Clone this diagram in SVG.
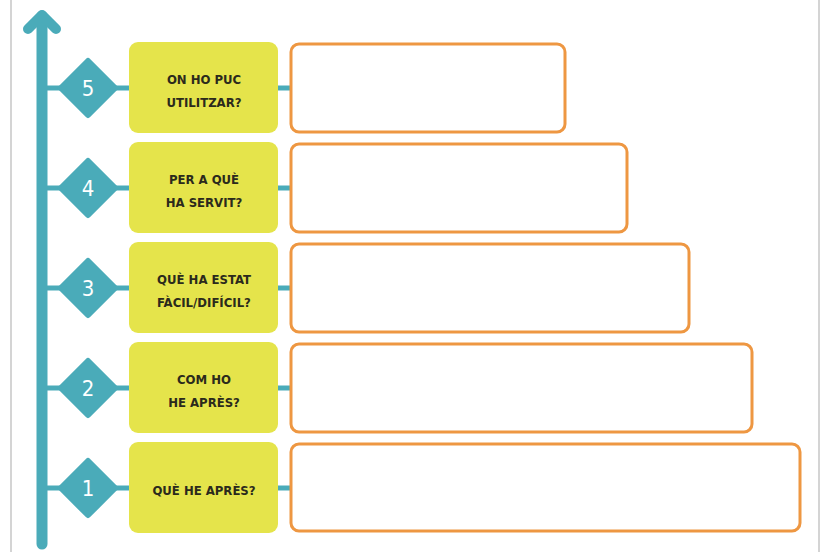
<svg xmlns="http://www.w3.org/2000/svg" width="827" height="552" viewBox="0 0 827 552">
<style>
.teal{stroke:#4aabb9;fill:none;stroke-linecap:round;stroke-linejoin:round}
.dia{fill:#4aabb9;stroke:#4aabb9;stroke-width:6;stroke-linejoin:round}
.num{fill:#ffffff;font-family:"DejaVu Sans Condensed","DejaVu Sans",sans-serif;font-size:22px;text-anchor:middle}
.q{fill:#e5e44b}
.lbl{fill:#2b2a1c;font-family:"DejaVu Sans Condensed","DejaVu Sans",sans-serif;font-size:13px;font-weight:bold;text-anchor:middle}
.ans{fill:#ffffff;stroke:#ee9742;stroke-width:3}
.conn{stroke:#4aabb9;stroke-width:5}
</style>
<rect width="827" height="552" fill="#ffffff"/>
<line x1="11" y1="0" x2="11" y2="552" stroke="#d4d4d4" stroke-width="2"/>
<line x1="819" y1="0" x2="819" y2="552" stroke="#d4d4d4" stroke-width="2"/>
<g id="connectors">
<line class="teal" x1="42" y1="16" x2="42" y2="544" stroke-width="11"/>
<polyline class="teal" points="28,29 42,15 56,29" stroke-width="10"/>
<line class="conn" x1="42" y1="88" x2="130" y2="88"/>
<line class="conn" x1="276" y1="88" x2="292" y2="88"/>
<line class="conn" x1="42" y1="188" x2="130" y2="188"/>
<line class="conn" x1="276" y1="188" x2="292" y2="188"/>
<line class="conn" x1="42" y1="288" x2="130" y2="288"/>
<line class="conn" x1="276" y1="288" x2="292" y2="288"/>
<line class="conn" x1="42" y1="388" x2="130" y2="388"/>
<line class="conn" x1="276" y1="388" x2="292" y2="388"/>
<line class="conn" x1="42" y1="488" x2="130" y2="488"/>
<line class="conn" x1="276" y1="488" x2="292" y2="488"/>
</g>
<g id="row5">
<polygon class="dia" points="88,61 115,88 88,115 61,88"/>
<text class="num" x="88" y="96">5</text>
<rect class="q" x="129" y="42" width="149" height="91" rx="9"/>
<text class="lbl" x="204" y="84">ON HO PUC</text>
<text class="lbl" x="204" y="107">UTILITZAR?</text>
<rect class="ans" x="291" y="44" width="274" height="88" rx="8"/>
</g>
<g id="row4">
<polygon class="dia" points="88,161 115,188 88,215 61,188"/>
<text class="num" x="88" y="196">4</text>
<rect class="q" x="129" y="142" width="149" height="91" rx="9"/>
<text class="lbl" x="204" y="184">PER A QUÈ</text>
<text class="lbl" x="204" y="207">HA SERVIT?</text>
<rect class="ans" x="291" y="144" width="336" height="88" rx="8"/>
</g>
<g id="row3">
<polygon class="dia" points="88,261 115,288 88,315 61,288"/>
<text class="num" x="88" y="296">3</text>
<rect class="q" x="129" y="242" width="149" height="91" rx="9"/>
<text class="lbl" x="204" y="284">QUÈ HA ESTAT</text>
<text class="lbl" x="204" y="307">FÀCIL/DIFÍCIL?</text>
<rect class="ans" x="291" y="244" width="398" height="88" rx="8"/>
</g>
<g id="row2">
<polygon class="dia" points="88,361 115,388 88,415 61,388"/>
<text class="num" x="88" y="396">2</text>
<rect class="q" x="129" y="342" width="149" height="91" rx="9"/>
<text class="lbl" x="204" y="384">COM HO</text>
<text class="lbl" x="204" y="407">HE APRÈS?</text>
<rect class="ans" x="291" y="344" width="461" height="88" rx="8"/>
</g>
<g id="row1">
<polygon class="dia" points="88,461 115,488 88,515 61,488"/>
<text class="num" x="88" y="496">1</text>
<rect class="q" x="129" y="442" width="149" height="91" rx="9"/>
<text class="lbl" x="204" y="495">QUÈ HE APRÈS?</text>
<rect class="ans" x="291" y="444" width="509" height="87" rx="8"/>
</g>
</svg>
